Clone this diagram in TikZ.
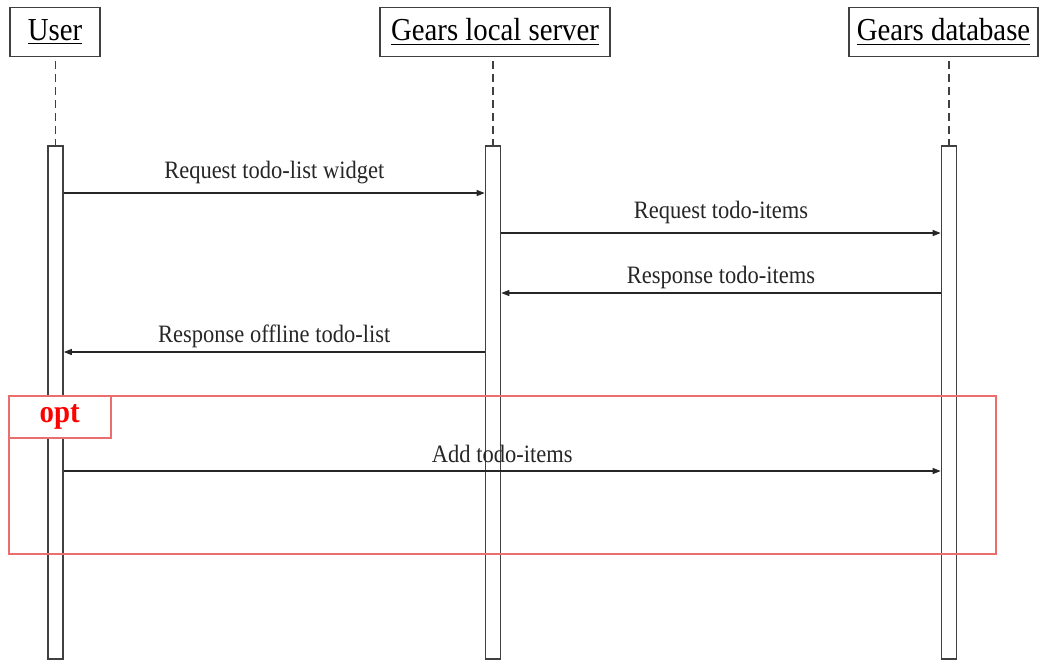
\documentclass[tikz,border=0pt]{standalone}
\usepackage{fontspec}
\setmainfont[FakeStretch=0.9]{Liberation Serif}
\usetikzlibrary{arrows.meta, positioning}
\definecolor{optred}{RGB}{235,110,110}

\begin{document}
\begin{tikzpicture}[
  x=0.5pt, y=-0.5pt,
  every node/.style={inner sep=0pt},
  head/.style={draw=gray!50!black, line width=0.8pt, minimum height=24.5pt,
               font=\fontsize{16}{19}\selectfont},
  bar/.style={draw=gray!50!black, line width=0.8pt, fill=white,
              minimum width=7.5pt, minimum height=256.5pt, anchor=north},
  life/.style={gray!50!black, line width=0.6pt, dash pattern=on 4pt off 2.5pt,
               shorten <=2pt},
  msg/.style={-{Triangle[length=4pt, width=3pt]}, line width=0.6pt, black!85},
  lbl/.style={anchor=base, font=\fontsize{12.5}{15}\selectfont},
  optbox/.style={draw=optred, line width=0.75pt},
  opttag/.style={optbox, fill=white, text=red, anchor=north west,
                 minimum width=51pt, minimum height=21pt,
                 font=\fontsize{16}{19}\selectfont\bfseries}
]
\useasboundingbox (0,0) rectangle (1040,660);

%% participants
\node[head, minimum width=45pt]   (user) at (55,32)    {\underline{User}};
\node[head, minimum width=115pt]  (srv)  at (495,32)   {\underline{Gears local server}};
\node[head, minimum width=94.5pt] (db)   at (943.5,32) {\underline{Gears database}};

%% activation bars
\node[bar] (ubar) at (55.5,145) {};
\node[bar] (sbar) at (493,145)  {};
\node[bar] (dbar) at (949,145)  {};

%% lifelines
\foreach \h/\b in {user/ubar, srv/sbar, db/dbar}
  \draw[life] (\b.north |- \h.south) -- (\b.north);

%% message rows
\foreach \n/\y in {r1/193, r2/233, r3/293, r4/352, r5/471}
  \coordinate (\n) at (0,\y);

%% messages
\draw[msg] (ubar.east |- r1) -- node[lbl, yshift=7.5pt] {Request todo-list widget} (sbar.west |- r1);
\draw[msg] (sbar.east |- r2) -- node[lbl, yshift=7.5pt] {Request todo-items} (dbar.west |- r2);
\draw[msg] (dbar.west |- r3) -- node[lbl, yshift=5pt] {Response todo-items} (sbar.east |- r3);
\draw[msg] (sbar.west |- r4) -- node[lbl, yshift=5pt] {Response offline todo-list} (ubar.east |- r4);

%% opt fragment
\node[optbox, anchor=north west, minimum width=493.5pt, minimum height=79pt] (opt) at (8,395) {};
\node[opttag] (optlbl) at (opt.north west) {opt};
\draw[msg] (ubar.east |- r5) -- node[lbl, yshift=4.5pt] {Add todo-items} (dbar.west |- r5);
\end{tikzpicture}
\end{document}
